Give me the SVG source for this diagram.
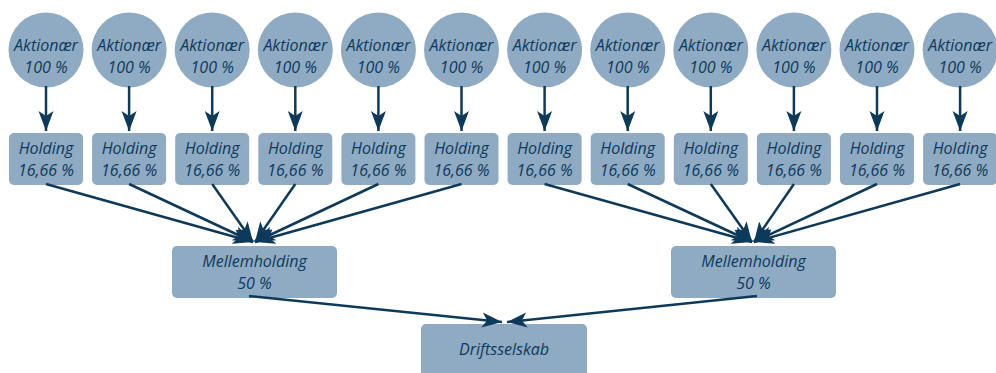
<svg xmlns="http://www.w3.org/2000/svg" width="996" height="373" viewBox="0 0 996 373">
<style>
.n{fill:#8faac3}
.t{font-family:"Open Sans","Noto Sans",sans-serif;font-style:italic;font-size:16px;fill:#0d3a5b;text-anchor:middle}
.c line{stroke:#0d3a5b;stroke-width:2.5;marker-end:url(#ah)}
</style>
<defs>
<marker id="ah" markerUnits="userSpaceOnUse" markerWidth="22" markerHeight="18" viewBox="0 -9 22 18" refX="20" refY="0" orient="auto">
<path d="M0,-7.5 L20,0 L0,7.5 L5,0 z" fill="#0d3a5b"/>
</marker>
</defs>
<rect width="996" height="373" fill="#ffffff"/>
<g id="a1"><circle class="n" cx="46" cy="50" r="37.5"/><text class="t" x="46" y="50.5">Aktionær</text><text class="t" x="46" y="72.5">100 %</text></g>
<g id="a2"><circle class="n" cx="129.1" cy="50" r="37.5"/><text class="t" x="129.1" y="50.5">Aktionær</text><text class="t" x="129.1" y="72.5">100 %</text></g>
<g id="a3"><circle class="n" cx="212.2" cy="50" r="37.5"/><text class="t" x="212.2" y="50.5">Aktionær</text><text class="t" x="212.2" y="72.5">100 %</text></g>
<g id="a4"><circle class="n" cx="295.3" cy="50" r="37.5"/><text class="t" x="295.3" y="50.5">Aktionær</text><text class="t" x="295.3" y="72.5">100 %</text></g>
<g id="a5"><circle class="n" cx="378.4" cy="50" r="37.5"/><text class="t" x="378.4" y="50.5">Aktionær</text><text class="t" x="378.4" y="72.5">100 %</text></g>
<g id="a6"><circle class="n" cx="461.5" cy="50" r="37.5"/><text class="t" x="461.5" y="50.5">Aktionær</text><text class="t" x="461.5" y="72.5">100 %</text></g>
<g id="a7"><circle class="n" cx="544.6" cy="50" r="37.5"/><text class="t" x="544.6" y="50.5">Aktionær</text><text class="t" x="544.6" y="72.5">100 %</text></g>
<g id="a8"><circle class="n" cx="627.7" cy="50" r="37.5"/><text class="t" x="627.7" y="50.5">Aktionær</text><text class="t" x="627.7" y="72.5">100 %</text></g>
<g id="a9"><circle class="n" cx="710.8" cy="50" r="37.5"/><text class="t" x="710.8" y="50.5">Aktionær</text><text class="t" x="710.8" y="72.5">100 %</text></g>
<g id="a10"><circle class="n" cx="793.9" cy="50" r="37.5"/><text class="t" x="793.9" y="50.5">Aktionær</text><text class="t" x="793.9" y="72.5">100 %</text></g>
<g id="a11"><circle class="n" cx="877" cy="50" r="37.5"/><text class="t" x="877" y="50.5">Aktionær</text><text class="t" x="877" y="72.5">100 %</text></g>
<g id="a12"><circle class="n" cx="960.1" cy="50" r="37.5"/><text class="t" x="960.1" y="50.5">Aktionær</text><text class="t" x="960.1" y="72.5">100 %</text></g>

<g id="h1"><rect class="n" x="9" y="133" width="74" height="52" rx="5"/><text class="t" x="46" y="154">Holding</text><text class="t" x="46" y="176">16,66 %</text></g>
<g id="h2"><rect class="n" x="92.1" y="133" width="74" height="52" rx="5"/><text class="t" x="129.1" y="154">Holding</text><text class="t" x="129.1" y="176">16,66 %</text></g>
<g id="h3"><rect class="n" x="175.2" y="133" width="74" height="52" rx="5"/><text class="t" x="212.2" y="154">Holding</text><text class="t" x="212.2" y="176">16,66 %</text></g>
<g id="h4"><rect class="n" x="258.3" y="133" width="74" height="52" rx="5"/><text class="t" x="295.3" y="154">Holding</text><text class="t" x="295.3" y="176">16,66 %</text></g>
<g id="h5"><rect class="n" x="341.4" y="133" width="74" height="52" rx="5"/><text class="t" x="378.4" y="154">Holding</text><text class="t" x="378.4" y="176">16,66 %</text></g>
<g id="h6"><rect class="n" x="424.5" y="133" width="74" height="52" rx="5"/><text class="t" x="461.5" y="154">Holding</text><text class="t" x="461.5" y="176">16,66 %</text></g>
<g id="h7"><rect class="n" x="507.6" y="133" width="74" height="52" rx="5"/><text class="t" x="544.6" y="154">Holding</text><text class="t" x="544.6" y="176">16,66 %</text></g>
<g id="h8"><rect class="n" x="590.7" y="133" width="74" height="52" rx="5"/><text class="t" x="627.7" y="154">Holding</text><text class="t" x="627.7" y="176">16,66 %</text></g>
<g id="h9"><rect class="n" x="673.8" y="133" width="74" height="52" rx="5"/><text class="t" x="710.8" y="154">Holding</text><text class="t" x="710.8" y="176">16,66 %</text></g>
<g id="h10"><rect class="n" x="756.9" y="133" width="74" height="52" rx="5"/><text class="t" x="793.9" y="154">Holding</text><text class="t" x="793.9" y="176">16,66 %</text></g>
<g id="h11"><rect class="n" x="840" y="133" width="74" height="52" rx="5"/><text class="t" x="877" y="154">Holding</text><text class="t" x="877" y="176">16,66 %</text></g>
<g id="h12"><rect class="n" x="923.1" y="133" width="74" height="52" rx="5"/><text class="t" x="960.1" y="154">Holding</text><text class="t" x="960.1" y="176">16,66 %</text></g>

<g id="m1"><rect class="n" x="172" y="246" width="165" height="52" rx="5"/><text class="t" x="254.5" y="267">Mellemholding</text><text class="t" x="254.5" y="289">50 %</text></g>
<g id="m2"><rect class="n" x="671" y="246" width="165" height="52" rx="5"/><text class="t" x="753.5" y="267">Mellemholding</text><text class="t" x="753.5" y="289">50 %</text></g>
<g id="d"><rect class="n" x="421" y="324" width="166" height="60" rx="5"/><text class="t" x="504" y="355">Driftsselskab</text></g>

<g id="connectors" class="c">
<line x1="46" y1="86" x2="46" y2="131"/>
<line x1="129.1" y1="86" x2="129.1" y2="131"/>
<line x1="212.2" y1="86" x2="212.2" y2="131"/>
<line x1="295.3" y1="86" x2="295.3" y2="131"/>
<line x1="378.4" y1="86" x2="378.4" y2="131"/>
<line x1="461.5" y1="86" x2="461.5" y2="131"/>
<line x1="544.6" y1="86" x2="544.6" y2="131"/>
<line x1="627.7" y1="86" x2="627.7" y2="131"/>
<line x1="710.8" y1="86" x2="710.8" y2="131"/>
<line x1="793.9" y1="86" x2="793.9" y2="131"/>
<line x1="877" y1="86" x2="877" y2="131"/>
<line x1="960.1" y1="86" x2="960.1" y2="131"/>
<line x1="46" y1="184" x2="253" y2="242"/>
<line x1="129.1" y1="184" x2="253" y2="242"/>
<line x1="212.2" y1="184" x2="253" y2="242"/>
<line x1="295.3" y1="184" x2="255" y2="242"/>
<line x1="378.4" y1="184" x2="255" y2="242"/>
<line x1="461.5" y1="184" x2="255" y2="242"/>
<line x1="544.6" y1="184" x2="752" y2="242"/>
<line x1="627.7" y1="184" x2="752" y2="242"/>
<line x1="710.8" y1="184" x2="752" y2="242"/>
<line x1="793.9" y1="184" x2="754" y2="242"/>
<line x1="877" y1="184" x2="754" y2="242"/>
<line x1="960.1" y1="184" x2="754" y2="242"/>
<line x1="249" y1="296" x2="502" y2="322"/>
<line x1="757" y1="296" x2="507" y2="322"/>
</g>
</svg>
